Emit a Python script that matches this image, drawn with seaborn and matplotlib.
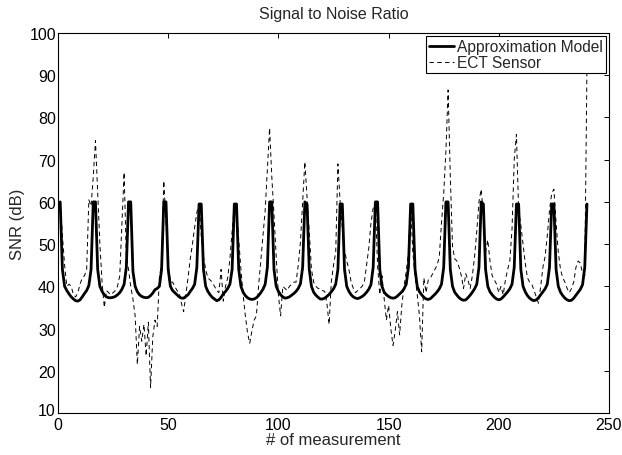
import numpy as np
import matplotlib
matplotlib.use("Agg")
import matplotlib.pyplot as plt
import matplotlib.transforms as mtransforms
import seaborn as sns

# --- data ---
measurement = np.arange(1, 241)

approx_model = [
    60,
    44, 40, 39, 38.2, 37.5, 37, 36.6, 36.5, 36.8, 37.5, 38.3, 39, 40.2, 44,
    60, 60,
    44, 40, 38.8, 38, 37.5, 37.3, 37.3, 37.4, 37.6, 38, 38.5, 39.3, 40.5, 44.5,
    60, 60,
    43.5, 40, 38.7, 38, 37.6, 37.4, 37.3, 37.4, 37.8, 38.4, 39.2, 39.5, 40, 44,
    60, 60,
    44, 40, 39, 38.5, 38, 37.5, 37.2, 37.2, 37.6, 38, 38.8, 39.5, 40.5, 44.5,
    59.5, 59.5,
    44, 40, 38.8, 38, 37.4, 37, 36.6, 36.8, 37.4, 38.2, 38.8, 39.5, 40.5, 44,
    59.5, 59.5,
    44, 40, 38.6, 37.8, 37.3, 37, 36.9, 37, 37.3, 37.8, 38.5, 39.3, 40.5, 44.5,
    60, 60,
    44, 40, 38.8, 38, 37.5, 37.2, 37.3, 37.5, 37.9, 38.3, 38.8, 39.5, 40.6, 44.5,
    60, 59.5,
    44, 40, 38.6, 37.9, 37.4, 37, 37, 37.2, 37.6, 38.1, 38.7, 39.4, 40.5, 44,
    59.5, 59.5,
    44, 40, 38.8, 38, 37.5, 37.2, 37.1, 37.3, 37.6, 38, 38.6, 39.3, 40.4, 44.5,
    60, 60,
    44, 40, 38.6, 38, 37.6, 37.3, 37.2, 37.3, 37.7, 38.2, 38.7, 39.4, 40.5, 44.5,
    59.5, 59.5,
    44, 40, 38.7, 38, 37.4, 37, 36.9, 37.1, 37.6, 38.1, 38.7, 39.4, 40.5, 44.5,
    60, 60,
    44, 40, 38.6, 37.9, 37.3, 36.9, 36.7, 36.8, 37.3, 37.9, 38.6, 39.4, 40.5, 44.5,
    60, 59.5,
    44, 40, 38.7, 38, 37.4, 37, 36.8, 37, 37.5, 38.1, 38.7, 39.4, 40.5, 44.5,
    59.5, 59.5,
    44, 40, 38.7, 37.8, 37.2, 36.8, 36.6, 36.8, 37.3, 38, 38.7, 39.4, 40.5, 44.5,
    59.5, 59.5,
    44, 40, 38.6, 37.8, 37.2, 36.8, 36.6, 36.7, 37.2, 37.9, 38.6, 39.3, 40.4, 44.5,
    59.5,
]

ect_sensor = [
    60, 52, 45, 40, 40.5, 40, 38, 37.5, 38.5, 40.5,
    42, 42.5, 44, 60.5, 59, 66, 74.5, 62, 50, 41,
    35, 39, 38.5, 38, 38.5, 39, 40, 42.5, 55, 67,
    47, 44, 40, 37, 33, 21.5, 30.5, 27, 31, 23.5,
    31.5, 16, 28, 32, 30.5, 42, 45.5, 65, 55, 45,
    41, 41, 40, 39, 38.5, 36, 34, 38, 42, 46.5,
    50, 54, 57.5, 59.5, 52, 47, 44, 42, 41.5, 41,
    40, 39, 38.5, 44, 36.5, 40, 42, 46.5, 53, 59.5,
    58, 51, 44, 38, 33, 29, 26.5, 29.5, 32, 33,
    40, 46, 52, 58, 68, 77.5, 66, 57, 47, 38,
    33, 40, 39.5, 39, 40, 40.5, 41, 41, 45, 50.5,
    60, 69.5, 61, 53, 44, 41, 40, 39.5, 39.5, 39,
    38.8, 36, 31, 41, 45, 48, 69, 60, 54, 48.5,
    46, 44, 41, 39.5, 38.5, 39, 39.5, 40, 41, 45,
    49, 55, 58.5, 59.5, 45, 38, 42.5, 37, 32, 35.5,
    30, 26, 29.5, 34, 28.5, 35.5, 40, 43.5, 48, 59.5,
    48, 42.5, 38, 33, 24.5, 42, 38.5, 41.5, 42, 43,
    44, 45, 47, 55, 62, 72, 86.5, 66, 49.5, 46.5,
    46, 44.5, 42.5, 39.5, 43, 41.5, 39.5, 42.5, 47, 53,
    60, 63, 57, 48, 51, 46, 42.5, 41.5, 40.5, 38.5,
    40, 38, 41.5, 44, 46, 53.5, 70, 76, 58, 54.5,
    50, 45.5, 42, 41, 40.5, 39, 37.5, 36, 40, 44.5,
    47, 52, 58, 62, 63, 55, 48, 44, 42, 41,
    39.5, 38.5, 39.5, 41, 44.5, 46, 45.5, 43, 42.5, 92,
]

x_ticks = [0, 50, 100, 150, 200, 250]
y_ticks = [10, 20, 30, 40, 50, 60, 70, 80, 90, 100]

# --- style: old matlab look ---
sns.set_style("white")
plt.rcParams["font.family"] = ["Liberation Sans", "DejaVu Sans"]
plt.rcParams.update({
    "xtick.direction": "in",
    "ytick.direction": "in",
    "xtick.top": True,
    "ytick.right": True,
    "xtick.major.size": 3.5,
    "ytick.major.size": 3.5,
    "xtick.major.width": 0.7,
    "ytick.major.width": 0.7,
    "font.size": 11,
})

fig = plt.figure(figsize=(6.22, 4.56), dpi=100)
ax = fig.add_axes([58 / 622, 1 - 414 / 456, (609 - 58) / 622, (414 - 34) / 456])

sns.lineplot(x=measurement, y=approx_model, ax=ax, color="black", linewidth=2.0,
             label="Approximation Model")
sns.lineplot(x=measurement, y=ect_sensor, ax=ax, color="black", linewidth=0.7,
             linestyle="--", label="ECT Sensor")
ax.lines[1].set_dashes([4.5, 3.5])

ax.set_xlim(0, 250)
ax.set_ylim(10, 100)
ax.set_xticks(x_ticks)
ax.set_yticks(y_ticks)
ax.tick_params(labelsize=11.5, colors="black")
ax.tick_params(axis="x", pad=3)
ax.tick_params(axis="y", pad=1.5)
# nudge the bottom y label up a little so it clears the x "0"
lbl10 = ax.get_yticklabels()[0]
lbl10.set_transform(lbl10.get_transform() +
                    mtransforms.ScaledTranslation(0, 3 / 72, fig.dpi_scale_trans))
for s in ax.spines.values():
    s.set_color("black")
    s.set_linewidth(0.8)

ax.set_title("Signal to Noise Ratio", fontsize=11.5, pad=11)
ax.set_xlabel("# of measurement", fontsize=12, labelpad=0)
ax.set_ylabel("SNR (dB)", fontsize=12, labelpad=3)

leg = ax.legend(loc="upper right", fontsize=11.2, frameon=True, fancybox=False,
                framealpha=1, edgecolor="black", borderaxespad=0.2,
                handlelength=1.6, handletextpad=0.2, borderpad=0.2,
                labelspacing=0.05)
leg.get_frame().set_linewidth(0.8)
leg.set_zorder(10)

fig.savefig("out.png", dpi=100, facecolor="white")
